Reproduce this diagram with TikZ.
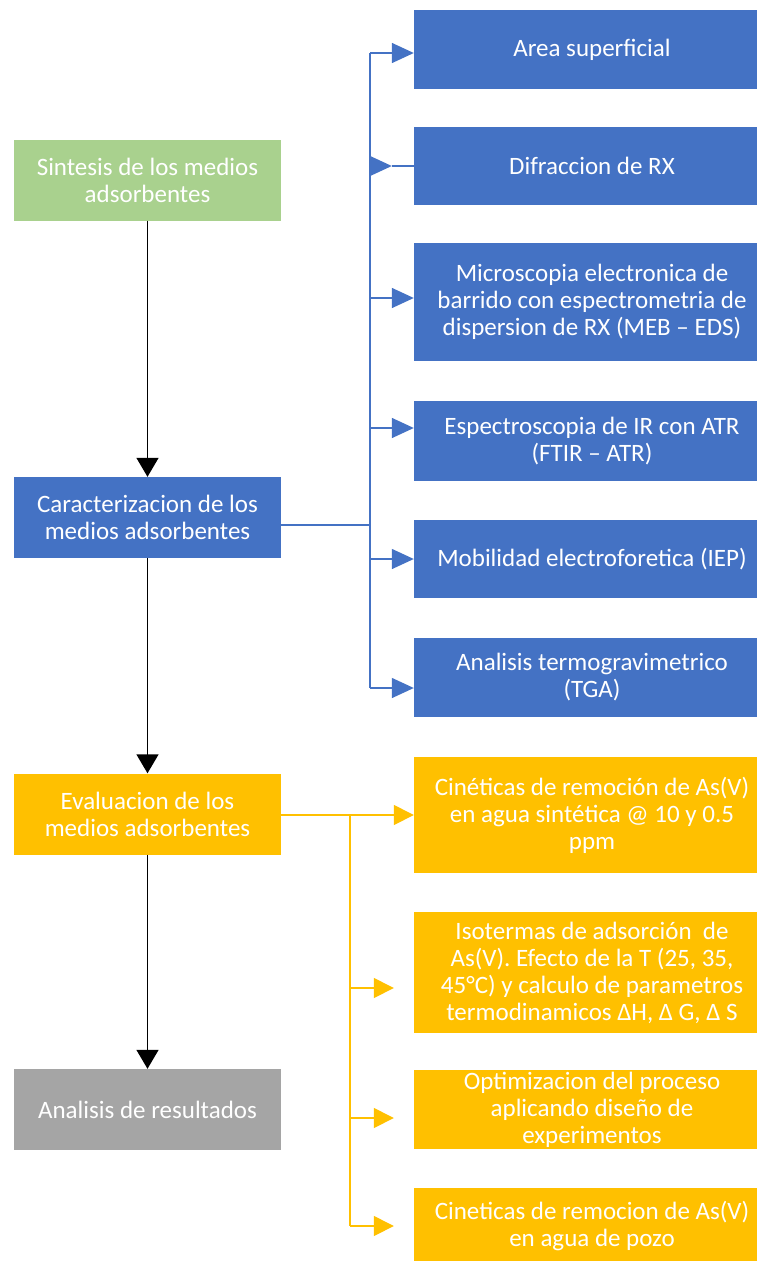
\documentclass[tikz,border=0pt]{standalone}
\usepackage{fontspec}
\setmainfont{Carlito}
\usetikzlibrary{arrows.meta}
\definecolor{boxgreen}{HTML}{A9D18E}
\definecolor{boxblue}{HTML}{4472C4}
\definecolor{boxgold}{HTML}{FFC000}
\definecolor{boxgray}{HTML}{A5A5A5}

\begin{document}
\begin{tikzpicture}[x=1pt, y=-1pt,
        stage/.style={rectangle, minimum width=267pt, minimum height=81pt, inner sep=0pt, align=center, text=white, font=\fontsize{25}{27}\selectfont},
        task/.style={rectangle, minimum width=356pt, inner sep=0pt, align=center, text=white, font=\fontsize{25}{27}\selectfont},
        flow/.style={-{Triangle[length=19pt,width=22pt]}, line width=1.5pt, black},
        bline/.style={line width=1.5pt, boxblue},
        barrow/.style={bline, -{Triangle[length=22pt,width=20pt]}},
        gline/.style={line width=1.5pt, boxgold},
        garrow/.style={gline, -{Triangle[length=20pt,width=20pt]}}]
        	\useasboundingbox (0,0) rectangle (757,1261);
        	\node [stage, fill=boxgreen] (syn) at (147.5,180) {Sintesis de los medios\\adsorbentes};
        	\node [stage, fill=boxblue] (car) at (147.5,517.5) {Caracterizacion de los\\medios adsorbentes};
        	\node [stage, fill=boxgold] (eva) at (147.5,814) {Evaluacion de los\\medios adsorbentes};
        	\node [stage, fill=boxgray] (res) at (147.5,1109.5) {Analisis de resultados};
        	\draw [flow] (syn) -- (car);
        	\draw [flow] (car) -- (eva);
        	\draw [flow] (eva) -- (res);
        	\node [task, fill=boxblue, minimum height=79pt] (are) at (592,49.5) {Area superficial};
        	\node [task, fill=boxblue, minimum height=78pt] (dif) at (592,166) {Difraccion de RX};
        	\node [task, fill=boxblue, minimum height=118pt] (meb) at (592,302) {Microscopia electronica de\\barrido con espectrometria de\\dispersion de RX (MEB -- EDS)};
        	\node [task, fill=boxblue, minimum height=80pt] (ftir) at (592,441) {Espectroscopia de IR con ATR\\(FTIR -- ATR)};
        	\node [task, fill=boxblue, minimum height=78pt] (iep) at (592,559) {Mobilidad electroforetica (IEP)};
        	\node [task, fill=boxblue, minimum height=79pt] (tga) at (592,677.5) {Analisis termogravimetrico\\(TGA)};
        	\coordinate (btop) at (370,53);
        	\coordinate (bmid) at (370,525);
        	\coordinate (bbot) at (370,688);
        	\draw [bline] ([yshift=-7.5pt]car.east) -- (bmid);
        	\draw [bline] (btop) -- (bbot);
        	\draw [barrow] (btop) -- ([yshift=-3.5pt]are.west);
        	\draw [barrow] (btop |- dif.west) -- ([xshift=-22pt]dif.west);
        	\draw [bline] ([xshift=-22pt]dif.west) -- (dif.west);
        	\draw [barrow] (btop |- meb.west) ++(0,-4) -- ([yshift=4pt]meb.west);
        	\draw [barrow] ([yshift=13pt]ftir.west -| btop) -- ([yshift=13pt]ftir.west);
        	\draw [barrow] (btop |- iep.west) -- (iep.west);
        	\draw [barrow] (bbot) -- ([yshift=-10.5pt]tga.west);
        	\node [task, fill=boxgold, minimum height=116pt] (cin) at (592,815) {Cinéticas de remoción de As(V)\\en agua sintética @ 10 y 0.5\\ppm};
        	\node [task, fill=boxgold, minimum height=121pt] (iso) at (592,972.5) {Isotermas de adsorción~ de\\As(V). Efecto de la T (25, 35,\\45°C) y calculo de parametros\\termodinamicos ΔH, Δ G, Δ S};
        	\node [task, fill=boxgold, minimum height=79pt] (opt) at (592,1109.5) {Optimizacion del proceso\\aplicando diseño de\\experimentos};
        	\node [task, fill=boxgold, minimum height=76pt] (poz) at (592,1226) {Cineticas de remocion de As(V)\\en agua de pozo};
        	\coordinate (gtop) at (350,815);
        	\coordinate (gbot) at (350,1226);
        	\draw [garrow] ([yshift=-1pt]eva.east) -- (cin.west);
        	\draw [gline] (gtop) -- (gbot);
        	\draw [garrow] ([yshift=-15.5pt]iso.west -| gtop) -- ([xshift=-20pt,yshift=-15.5pt]iso.west);
        	\draw [garrow] ([yshift=-8.5pt]opt.west -| gtop) -- ([xshift=-20pt,yshift=-8.5pt]opt.west);
        	\draw [garrow] (gbot) -- ([xshift=-20pt]poz.west);
        \end{tikzpicture}
\end{document}
